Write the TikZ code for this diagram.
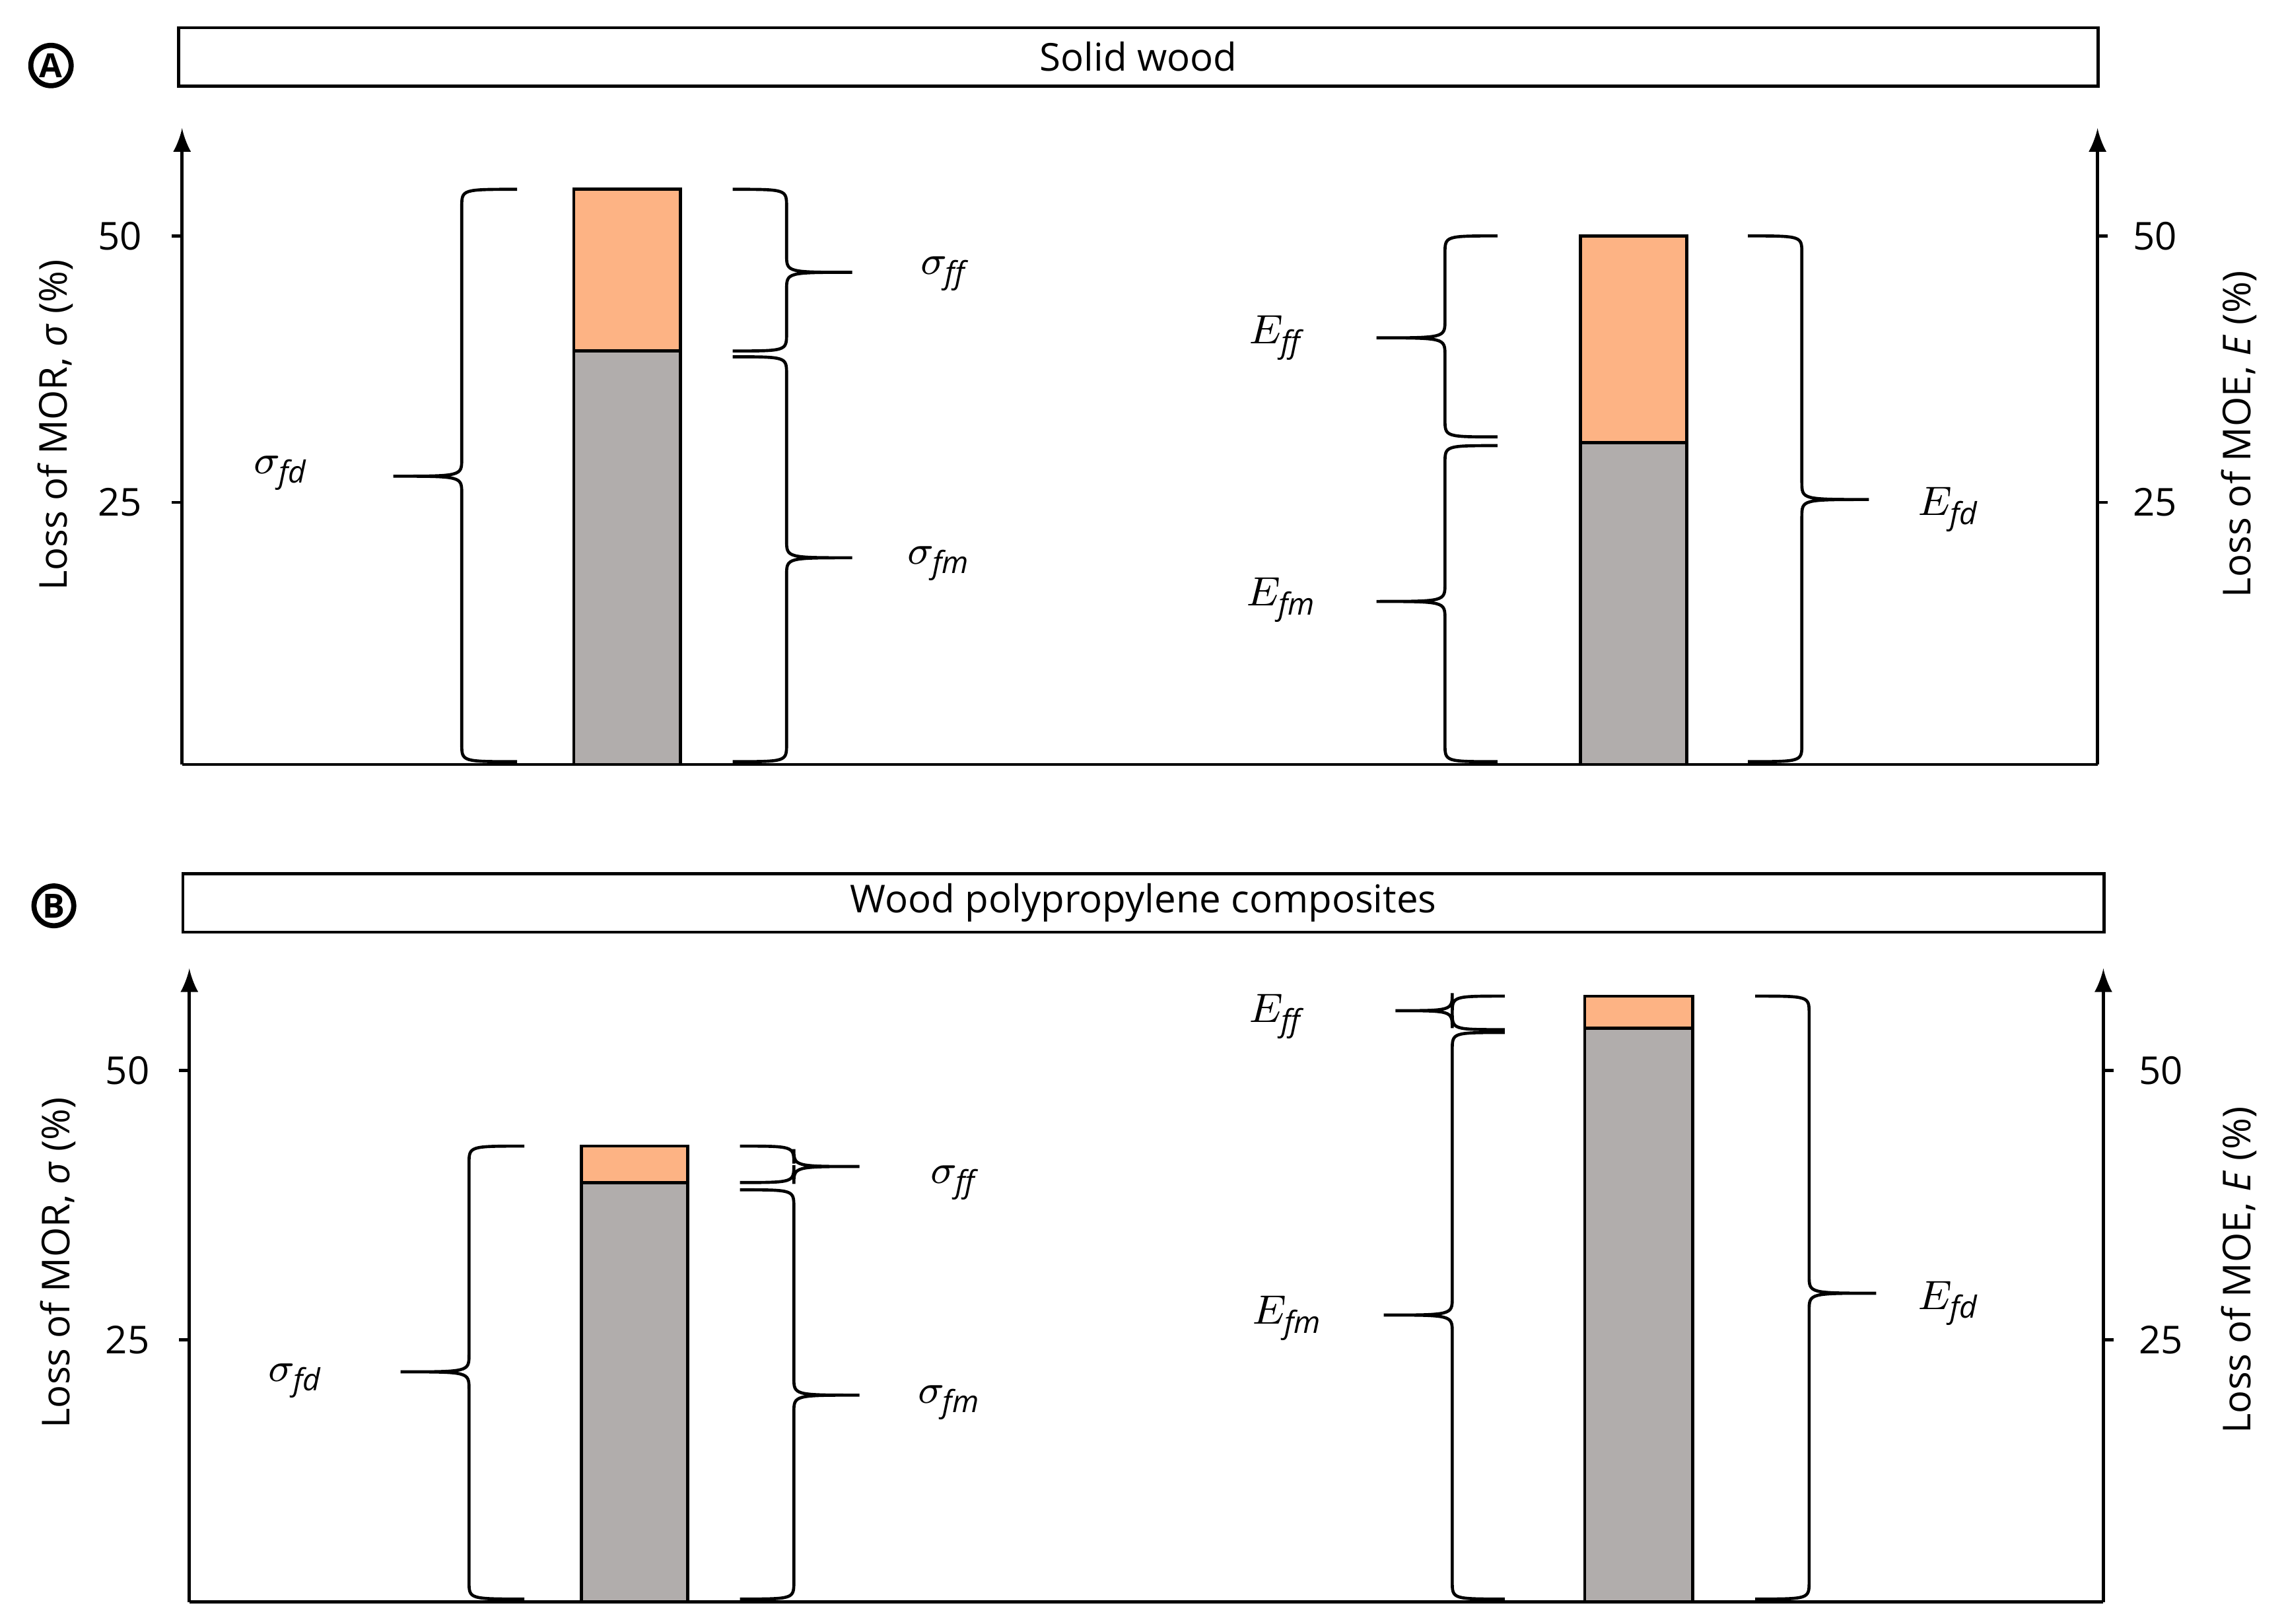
\documentclass[tikz,border=0pt]{standalone}
\usepackage{fontspec}
\setmainfont{Open Sans}
\begin{document}
\definecolor{org}{HTML}{FDB384}
\definecolor{gry}{HTML}{B1ADAC}
\newcommand\mybr[6]{% xend, xline, y1, y2, ytip, xtip
\draw[br] (#1,#3) .. controls (#2,#3) .. (#2,#3+12) -- (#2,#5-12) .. controls (#2,#5) .. (#6,#5)
 .. controls (#2,#5) .. (#2,#5+12) -- (#2,#4-12) .. controls (#2,#4) .. (#1,#4);}
\begin{tikzpicture}[x=0.01cm,y=-0.01cm,
  ln/.style={line width=0.6pt},
  br/.style={line width=0.6pt},
  bar/.style={draw,line width=0.6pt},
  lab/.style={font=\fontsize{8.5}{10}\selectfont},
  ax/.style={font=\fontsize{7.5}{9}\selectfont},
  tt/.style={draw,line width=0.6pt,minimum height=0.4cm,inner sep=0pt,font=\fontsize{7.5}{9}\selectfont}]
\useasboundingbox (0,0) rectangle (1568,1115);
% ---------- Panel A
\node[draw,circle,line width=1pt,inner sep=0.5pt,font=\bfseries\fontsize{6.5}{7}\selectfont] (ca) at (35,45) {A};
\node[tt,minimum width=13.17cm] (ta) at (781.5,39) {Solid wood};
\draw[ln,-latex] (125,525) -- (125,88);
\draw[ln,-latex] (1440,525) -- (1440,88);
\draw[ln] (125,525) -- (1440,525);
\draw[ln] (118,162) -- (125,162) (118,345) -- (125,345) (1440,162) -- (1447,162) (1440,345) -- (1447,345);
\node[ax,anchor=east] (a50) at (110,162) {50};
\node[ax,anchor=east] (a25) at (110,345) {25};
\node[ax,anchor=west] (b50) at (1452,162) {50};
\node[ax,anchor=west] (b25) at (1452,345) {25};
\node[ax,rotate=90] (ya) at (38,292) {Loss of MOR, \textit{σ} (\%)};
\node[ax,rotate=90] (yb) at (1537,298) {Loss of MOE, \textit{E} (\%)};
\filldraw[bar,fill=gry] (394,525) rectangle (467,241);
\filldraw[bar,fill=org] (394,241) rectangle (467,130);
\filldraw[bar,fill=gry] (1085,525) rectangle (1158,304);
\filldraw[bar,fill=org] (1085,304) rectangle (1158,162);
\mybr{355}{317}{130}{523}{327}{270}
\mybr{503}{540}{130}{241}{187}{585}
\mybr{503}{540}{245}{523}{383}{585}
\mybr{1028}{992}{162}{300}{232}{945}
\mybr{1028}{992}{306}{523}{413}{945}
\mybr{1200}{1237}{162}{523}{343}{1283}
\node[lab] (l1) at (648,188) {$\sigma_{\mathit{ff}}$};
\node[lab] (l2) at (645,387) {$\sigma_{\mathit{fm}}$};
\node[lab] (l3) at (193,325) {$\sigma_{\mathit{fd}}$};
\node[lab] (l4) at (876,232) {$E_{\mathit{ff}}$};
\node[lab] (l5) at (880,412) {$E_{\mathit{fm}}$};
\node[lab] (l6) at (1338,350) {$E_{\mathit{fd}}$};
% ---------- Panel B
\node[draw,circle,line width=1pt,inner sep=0.5pt,font=\bfseries\fontsize{6.5}{7}\selectfont] (cb) at (37,622) {B};
\node[tt,minimum width=13.18cm] (tb) at (785,620) {Wood polypropylene composites};
\draw[ln,-latex] (130,1100) -- (130,665);
\draw[ln,-latex] (1444,1100) -- (1444,665);
\draw[ln] (130,1100) -- (1444,1100);
\draw[ln] (123,735) -- (130,735) (123,920) -- (130,920) (1444,735) -- (1451,735) (1444,920) -- (1451,920);
\node[ax,anchor=east] (c50) at (115,735) {50};
\node[ax,anchor=east] (c25) at (115,920) {25};
\node[ax,anchor=west] (d50) at (1456,735) {50};
\node[ax,anchor=west] (d25) at (1456,920) {25};
\node[ax,rotate=90] (yc) at (40,867) {Loss of MOR, \textit{σ} (\%)};
\node[ax,rotate=90] (yd) at (1537,872) {Loss of MOE, \textit{E} (\%)};
\filldraw[bar,fill=gry] (399,1100) rectangle (472,812);
\filldraw[bar,fill=org] (399,812) rectangle (472,787);
\filldraw[bar,fill=gry] (1088,1100) rectangle (1162,706);
\filldraw[bar,fill=org] (1088,706) rectangle (1162,684);
\mybr{360}{322}{787}{1098}{942}{275}
\mybr{508}{545}{787}{812}{801}{590}
\mybr{508}{545}{817}{1098}{958}{590}
\mybr{1033}{997}{684}{707}{694}{958}
\mybr{1033}{997}{709}{1098}{903}{950}
\mybr{1205}{1242}{684}{1098}{888}{1288}
\node[lab] (m1) at (655,812) {$\sigma_{\mathit{ff}}$};
\node[lab] (m2) at (652,963) {$\sigma_{\mathit{fm}}$};
\node[lab] (m3) at (203,948) {$\sigma_{\mathit{fd}}$};
\node[lab] (m4) at (876,698) {$E_{\mathit{ff}}$};
\node[lab] (m5) at (884,905) {$E_{\mathit{fm}}$};
\node[lab] (m6) at (1338,895) {$E_{\mathit{fd}}$};
\end{tikzpicture}
\end{document}
